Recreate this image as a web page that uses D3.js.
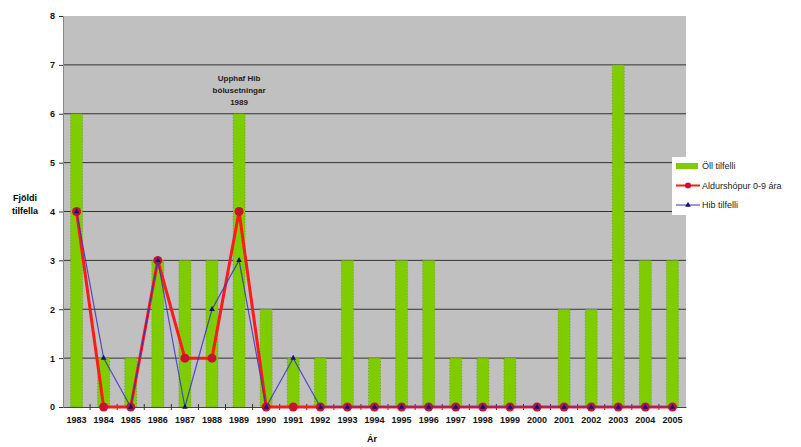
<!DOCTYPE html>
<html>
<head>
<meta charset="utf-8">
<style>
  body { margin: 0; background: #fff; }
  svg { display: block; font-family: 'Liberation Sans', Arial, sans-serif; }
  .tick text { font-size: 9px; font-weight: bold; fill: #111; }
</style>
</head>
<body>
<svg width="801" height="447"></svg>
<script src="https://d3js.org/d3.v7.min.js"></script>
<script>
let years = ["1983","1984","1985","1986","1987","1988","1989","1990","1991","1992","1993","1994",
             "1995","1996","1997","1998","1999","2000","2001","2002","2003","2004","2005"];
let allCases = [6,1,1,3,3,3,6,2,1,1,3,1,3,3,1,1,1,0,2,2,7,3,3];
let age09    = [4,0,0,3,1,1,4,0,0,0,0,0,0,0,0,0,0,0,0,0,0,0,0];
let hibCases = [4,1,0,3,0,2,3,0,1,0,0,0,0,0,0,0,0,0,0,0,0,0,0];
let yTicks = [0,1,2,3,4,5,6,7,8];

let svg = d3.select("svg");
let plotLeft = 63, plotRight = 686, plotTop = 16, plotBottom = 407;

let x = d3.scaleBand().domain(years).range([plotLeft, plotRight]);
let y = d3.scaleLinear().domain([0, 8]).range([plotBottom, plotTop]);

// plot background
svg.append("rect")
  .attr("x", plotLeft).attr("y", plotTop)
  .attr("width", plotRight - plotLeft).attr("height", plotBottom - plotTop)
  .attr("fill", "#c0c0c0");

// gridlines
svg.append("g").selectAll("line")
  .data(yTicks.filter(d => d > 0 && d < 8))
  .join("line")
  .attr("x1", plotLeft).attr("x2", plotRight)
  .attr("y1", d => y(d)).attr("y2", d => y(d))
  .attr("stroke", "#333").attr("stroke-width", 1);

// bars
let barW = 12;
svg.append("g").selectAll("rect")
  .data(years.map((yr, i) => ({ yr, v: allCases[i] })))
  .join("rect")
  .attr("x", d => x(d.yr) + x.bandwidth() / 2 - barW / 2)
  .attr("width", barW)
  .attr("y", d => y(d.v))
  .attr("height", d => y(0) - y(d.v))
  .attr("fill", "#7fcc00")
  .attr("stroke", "#5a8a10")
  .attr("stroke-width", 0.6)
  .attr("stroke-dasharray", "1,2");

// axes
let yAxis = d3.axisLeft(y).tickValues(yTicks).tickSize(4).tickPadding(4);
svg.append("g")
  .attr("transform", `translate(${plotLeft},0)`)
  .call(yAxis)
  .call(g => g.select(".domain").attr("stroke", "#888"))
  .call(g => g.selectAll(".tick line").attr("stroke", "#333"));

let xAxis = d3.axisBottom(x).tickSize(0).tickPadding(10);
svg.append("g")
  .attr("transform", `translate(0,${plotBottom})`)
  .call(xAxis)
  .call(g => g.select(".domain").attr("stroke", "#444"))
  .call(g => g.selectAll(".tick text").attr("font-size", "8.5px"));

// small tick marks between categories
svg.append("g").selectAll("line")
  .data(years.slice(1))
  .join("line")
  .attr("x1", d => x(d)).attr("x2", d => x(d))
  .attr("y1", plotBottom - 3).attr("y2", plotBottom + 3)
  .attr("stroke", "#333");

let cx = d => x(d) + x.bandwidth() / 2;

// red series
let redData = years.map((yr, i) => ({ yr, v: age09[i] }));
svg.append("path")
  .datum(redData)
  .attr("fill", "none")
  .attr("stroke", "#ff1a1a")
  .attr("stroke-width", 3)
  .attr("d", d3.line().x(d => cx(d.yr)).y(d => y(d.v)));
svg.append("g").selectAll("circle")
  .data(redData)
  .join("circle")
  .attr("cx", d => cx(d.yr)).attr("cy", d => y(d.v))
  .attr("r", 4.5)
  .attr("fill", "#cc1030");

// blue series
let blueData = years.map((yr, i) => ({ yr, v: hibCases[i] }));
svg.append("path")
  .datum(blueData)
  .attr("fill", "none")
  .attr("stroke", "#3030c0")
  .attr("stroke-width", 1.2)
  .attr("stroke-opacity", 0.8)
  .attr("d", d3.line().x(d => cx(d.yr)).y(d => y(d.v)));
svg.append("g").selectAll("path")
  .data(blueData)
  .join("path")
  .attr("transform", d => `translate(${cx(d.yr)},${y(d.v)})`)
  .attr("d", d3.symbol().type(d3.symbolTriangle).size(14))
  .attr("fill", "#10107a");

// annotation
let ann = ["Upphaf Hib", "bólusetningar", "1989"];
svg.append("g").selectAll("text")
  .data(ann)
  .join("text")
  .attr("x", cx("1989"))
  .attr("y", (d, i) => 81 + i * 12)
  .attr("text-anchor", "middle")
  .attr("font-size", "8px")
  .attr("font-weight", "bold")
  .attr("fill", "#222")
  .text(d => d);

// axis titles
svg.append("text").attr("x", 25).attr("y", 201).attr("text-anchor", "middle")
  .attr("font-size", "9px").attr("font-weight", "bold").text("Fjöldi");
svg.append("text").attr("x", 25).attr("y", 214).attr("text-anchor", "middle")
  .attr("font-size", "9px").attr("font-weight", "bold").text("tilfella");
svg.append("text").attr("x", 372).attr("y", 442).attr("text-anchor", "middle")
  .attr("font-size", "9px").attr("font-weight", "bold").text("Ár");

// legend
let legendNames = ["Öll tilfelli", "Aldurshópur 0-9 ára", "Hib tilfelli"];
let lg = svg.append("g").attr("transform", "translate(672,157)");
lg.append("rect").attr("x", 0).attr("y", 0).attr("width", 135).attr("height", 58).attr("fill", "#fff");
let ly = i => 9 + i * 19.5;
lg.append("rect").attr("x", 4).attr("y", ly(0) - 3).attr("width", 22).attr("height", 6).attr("fill", "#7fcc00");
lg.append("line").attr("x1", 4).attr("x2", 28).attr("y1", ly(1)).attr("y2", ly(1))
  .attr("stroke", "#ff1a1a").attr("stroke-width", 2);
lg.append("circle").attr("cx", 16).attr("cy", ly(1)).attr("r", 3).attr("fill", "#cc1030");
lg.append("line").attr("x1", 4).attr("x2", 28).attr("y1", ly(2)).attr("y2", ly(2))
  .attr("stroke", "#3030c0").attr("stroke-width", 1);
lg.append("path").attr("transform", `translate(16,${ly(2)})`)
  .attr("d", d3.symbol().type(d3.symbolTriangle).size(14)).attr("fill", "#10107a");
lg.selectAll("text.lt")
  .data(legendNames)
  .join("text")
  .attr("class", "lt")
  .attr("x", 30).attr("y", (d, i) => ly(i) + 3)
  .attr("font-size", "9px")
  .attr("fill", "#222")
  .text(d => d);
</script>
</body>
</html>
